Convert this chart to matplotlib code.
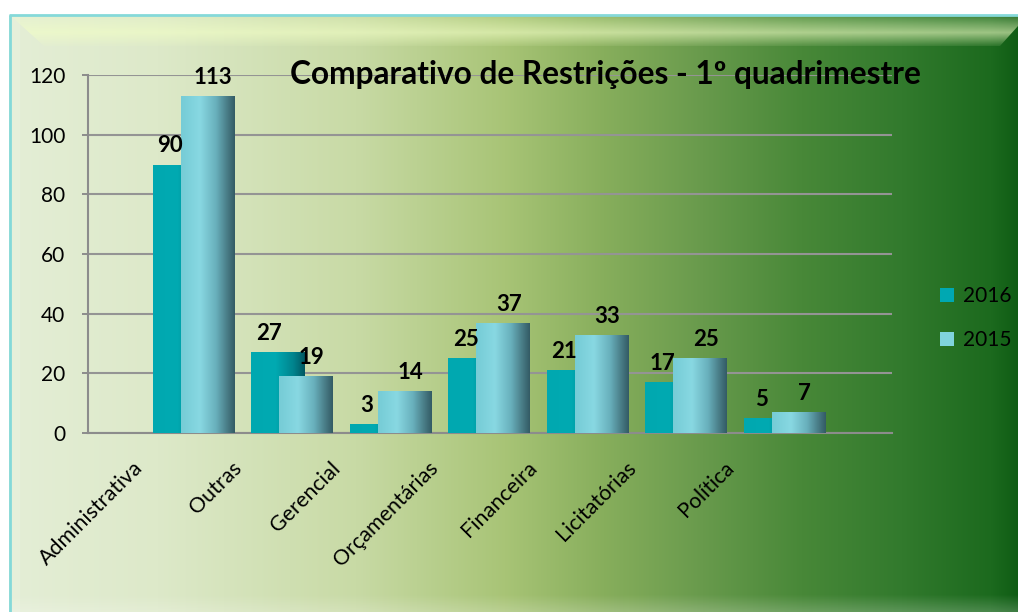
import numpy as np
import matplotlib
matplotlib.use('Agg')
import matplotlib.pyplot as plt
from matplotlib.patches import Polygon, Rectangle

categories = ['Administrativa', 'Outras', 'Gerencial', 'Orçamentárias',
              'Financeira', 'Licitatórias', 'Política']
v2016 = [90, 27, 3, 25, 21, 17, 5]
v2015 = [113, 19, 14, 37, 33, 25, 7]
series_labels = ['2016', '2015']
yticks = [0, 20, 40, 60, 80, 100, 120]
title = 'Comparativo de Restrições - 1º quadrimestre'

plt.rcParams['font.family'] = ['Lato', 'DejaVu Sans']

W, H = 1018, 612
fig = plt.figure(figsize=(W / 100, H / 100), dpi=100)
fig.patch.set_facecolor('white')

# ---------- background panel ----------
bg = fig.add_axes([0, 0, 1, 1], zorder=0)
bg.set_xlim(0, W)
bg.set_ylim(H, 0)
bg.axis('off')
stops = [(0, (228, 238, 214)), (150, (221, 233, 201)), (350, (200, 218, 165)),
         (500, (168, 196, 118)), (600, (135, 174, 92)), (700, (104, 154, 76)),
         (800, (72, 136, 56)), (900, (50, 122, 45)), (990, (28, 106, 30)),
         (1018, (15, 92, 20))]
xs = np.arange(W)
grad = np.zeros((1, W, 3))
for c in range(3):
    grad[0, :, c] = np.interp(xs, [s[0] for s in stops], [s[1][c] for s in stops]) / 255
bg.imshow(grad, extent=(9, W, H, 15), aspect='auto', interpolation='bilinear', zorder=1)

# top bevel highlight
band = np.zeros((40, 2, 4))
band[..., :3] = (0.95, 1.0, 0.78)
a = np.concatenate([np.linspace(0.18, 0.6, 22), np.linspace(0.6, 0.1, 18)])
band[:, :, 3] = a[:, None]
poly = Polygon([(11, 16), (W, 16), (W, 26), (1000, 46), (44, 46)], closed=True,
               facecolor='none', edgecolor='none')
bg.add_patch(poly)
im = bg.imshow(band, extent=(11, W, 46, 16), aspect='auto', interpolation='bilinear', zorder=2)
im.set_clip_path(poly)
# bottom bevel
bb = np.zeros((18, 2, 4))
bb[..., :3] = 1.0
bb[:, :, 3] = np.linspace(0.0, 0.2, 18)[:, None]
bg.imshow(bb, extent=(11, W, H, H - 18), aspect='auto', interpolation='bilinear', zorder=2)
# left bevel
bg.add_patch(Rectangle((11, 16), 9, H - 16, facecolor='white', alpha=0.12, edgecolor='none', zorder=2))
# cyan frame lines
bg.plot([9, W], [15, 15], color=(0.52, 0.85, 0.85), lw=2.0, zorder=3, solid_capstyle='butt')
bg.plot([10.5, 10.5], [15, H], color=(0.52, 0.85, 0.85), lw=2.0, zorder=3, solid_capstyle='butt')

# ---------- main axes ----------
x_left, x_right, y0, y120 = 88, 892, 433, 75
unit = 98.5
ax = fig.add_axes([x_left / W, (H - y0) / H, (x_right - x_left) / W, (y0 - y120) / H], zorder=2)
ax.patch.set_alpha(0)

n = len(categories)
idx = np.arange(n)
bw = 0.54
pos16 = idx + 0.655
pos15 = idx + 0.94

b16 = ax.bar(pos16, v2016, bw, align='edge', color='#00a8b2', zorder=3, label=series_labels[0])
b15 = ax.bar(pos15, v2015, bw, align='edge', color='#80d4dd', zorder=5, label=series_labels[1])


def gradient(stops_):
    xx = np.linspace(0, 1, 64)
    g = np.zeros((1, 64, 3))
    for c in range(3):
        g[0, :, c] = np.interp(xx, [s[0] for s in stops_], [s[1][c] for s in stops_]) / 255
    return g


g16 = gradient([(0, (0, 168, 176)), (0.45, (0, 170, 178)), (0.8, (0, 130, 140)), (1.0, (0, 88, 98))])
g15 = gradient([(0, (118, 204, 214)), (0.35, (136, 216, 226)), (0.65, (105, 176, 188)), (0.88, (70, 120, 130)), (1.0, (52, 92, 102))])

for bars, g, z in ((b16, g16, 4), (b15, g15, 6)):
    for p in bars:
        x0, w, h = p.get_x(), p.get_width(), p.get_height()
        img = ax.imshow(g, extent=(x0, x0 + w, 0, h), aspect='auto', interpolation='bilinear', zorder=z)
        img.set_clip_path(p)

for p, v in zip(b16, v2016):
    ax.annotate(str(v), (p.get_x() + p.get_width() / 2, v), xytext=(-9, 12),
                textcoords='offset pixels', ha='center', va='baseline',
                fontsize=16, fontweight='bold', color='black', zorder=8)
for p, v in zip(b15, v2015):
    ax.annotate(str(v), (p.get_x() + p.get_width() / 2, v), xytext=(6, 12),
                textcoords='offset pixels', ha='center', va='baseline',
                fontsize=16, fontweight='bold', color='black', zorder=8)

ax.set_xlim(0, (x_right - x_left) / unit)
ax.set_ylim(0, 120)
ax.set_yticks(yticks)
ax.set_yticklabels([str(t) for t in yticks], fontsize=15)
ax.set_xticks(idx + 0.6)
ax.set_xticklabels(categories, rotation=45, ha='right', fontsize=15.5)
ax.set_xticks(np.arange(1, n + 1), minor=True)
ax.tick_params(axis='x', which='major', length=0, pad=18)
ax.tick_params(axis='x', which='minor', direction='in', length=4.3, width=1.2, color='#8c8c8c')
ax.tick_params(axis='y', direction='out', length=4.3, width=1.4, color='#8c8c8c', pad=12)
ax.grid(axis='y', color='#949494', lw=1.5, zorder=1)
ax.set_axisbelow(True)
for s in ('top', 'right'):
    ax.spines[s].set_visible(False)
for s in ('left', 'bottom'):
    ax.spines[s].set_color('#8c8c8c')
    ax.spines[s].set_linewidth(1.5)

fig.text(605 / W, 1 - 84 / H, title, ha='center', va='baseline', fontsize=22.8,
         fontweight='bold', color='black', zorder=10)

fig.legend(handles=[b16, b15], labels=series_labels, loc='center left',
           bbox_to_anchor=(932 / W, 1 - 318 / H), frameon=False, fontsize=15,
           handlelength=0.65, handleheight=0.65, handletextpad=0.45, labelspacing=1.15,
           borderaxespad=0)

fig.savefig('out.png', dpi=100)
